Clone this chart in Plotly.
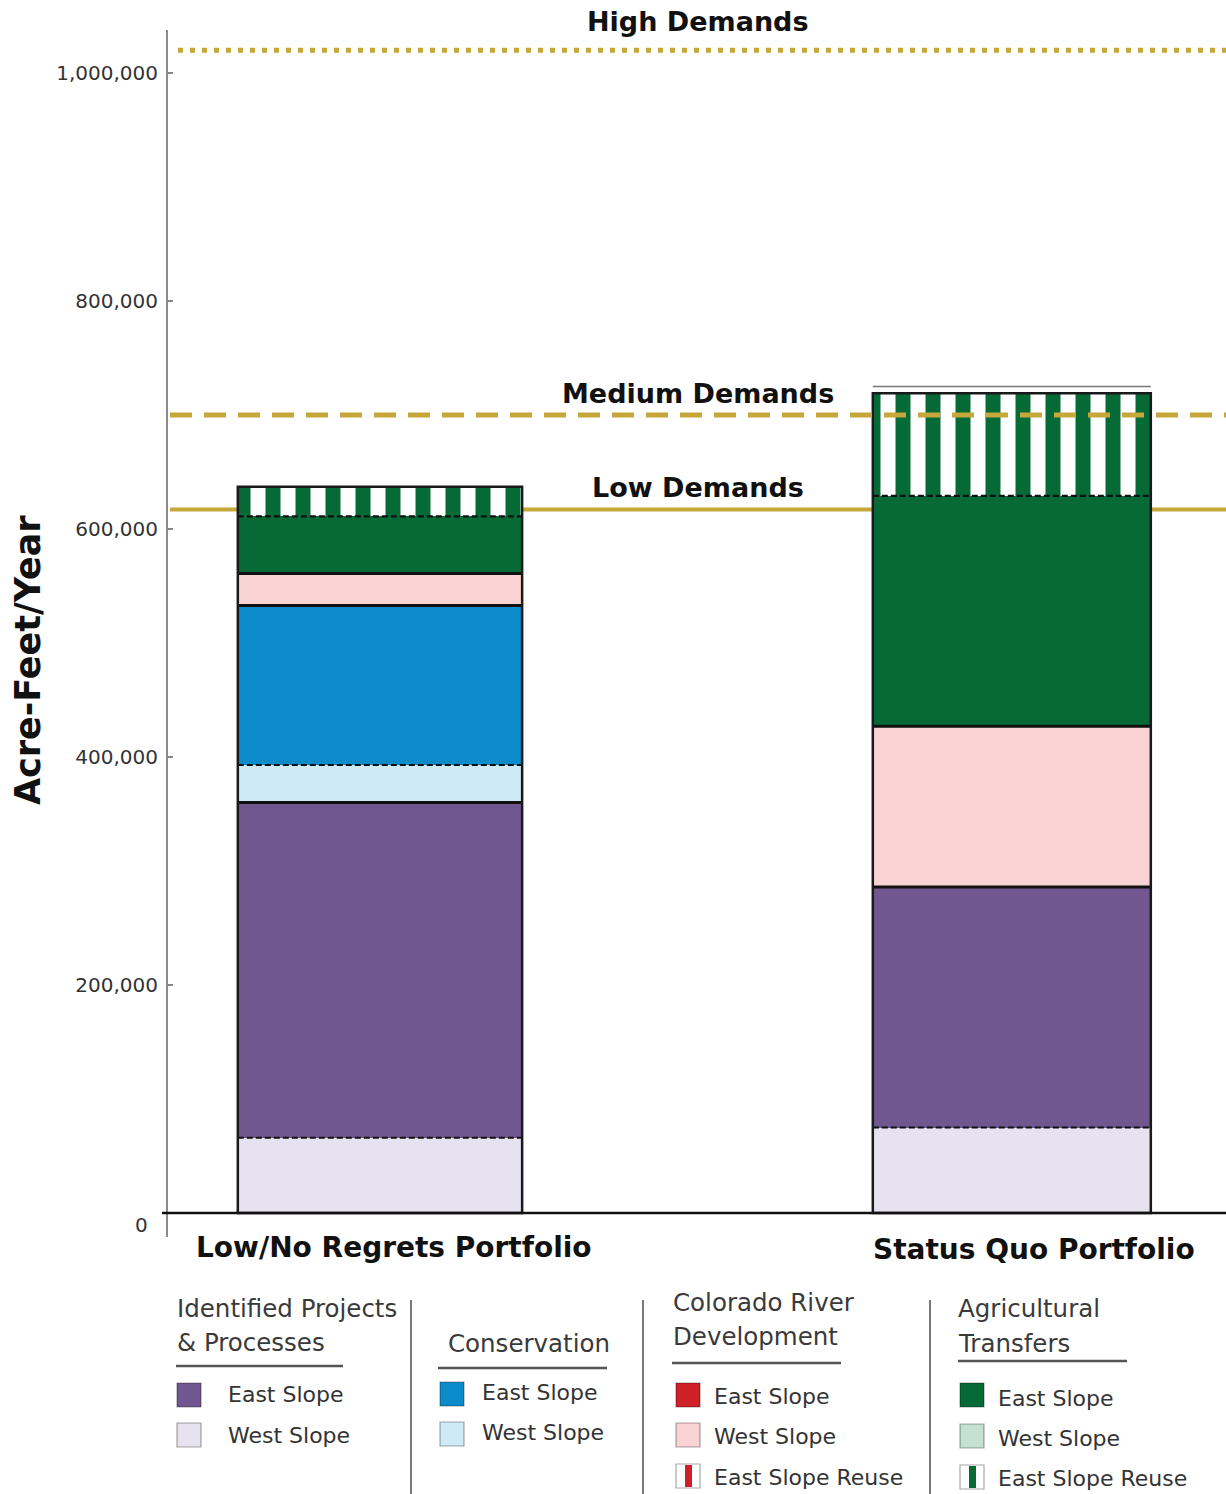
import plotly.graph_objects as go

# ---- data (acre-feet per year) ----
portfolios = ["Low/No Regrets Portfolio", "Status Quo Portfolio"]

ipp_west = [66000, 75000]        # Identified Projects & Processes, West Slope
ipp_east = [294000, 211000]      # Identified Projects & Processes, East Slope
cons_west = [33000, 0]           # Conservation, West Slope
cons_east = [140000, 0]          # Conservation, East Slope
crd_west = [28000, 141000]       # Colorado River Development, West Slope
ag_east = [50000, 202000]        # Agricultural Transfers, East Slope
ag_reuse = [26000, 90000]        # Agricultural Transfers, East Slope Reuse
crd_reuse = [0, 6000]            # Colorado River Development, East Slope Reuse

demand_names = ["High Demands", "Medium Demands", "Low Demands"]
demand_levels = [1020000, 700000, 617000]

y_ticks = [200000, 400000, 600000, 800000, 1000000]
y_tick_text = ["200,000", "400,000", "600,000", "800,000", "1,000,000"]

# ---- colours ----
PURPLE = "#70578f"
LAVENDER = "#e7e2ef"
BLUE = "#0b8bc9"
LIGHT_BLUE = "#cfeaf7"
RED = "#cf2027"
PINK = "#f9d3d4"
GREEN = "#066a37"
LIGHT_GREEN = "#c4e2cf"
GOLD = "#c6a83a"

FONT = "DejaVu Sans"

# figure geometry
W, H = 1226, 1494
ML, MR, MT, MB = 168, 0, 30, 257
Y0, Y1 = -21053, 1037719
X0, X1 = -0.3355, 1.339
bar_x = [0, 1]
bar_w = [0.45, 0.44]


def px_x(p):
    return (p - ML) / (W - ML - MR)


def px_y(p):
    return (H - MB - p) / (H - MT - MB)


# stacked segments: (values, fill, group, pattern)
segments = [
    (ipp_west, LAVENDER, "ipp", None),
    (ipp_east, PURPLE, "ipp", None),
    (cons_west, LIGHT_BLUE, "cons", None),
    (cons_east, BLUE, "cons", None),
    (crd_west, PINK, "crd", None),
    (ag_east, GREEN, "ag", None),
    (ag_reuse, "white", "ag", GREEN),
]

fig = go.Figure()
for vals, col, grp, pat in segments:
    marker = dict(color=col, line=dict(width=0))
    if pat:
        marker["pattern"] = dict(shape="|", fgcolor=pat, bgcolor="white",
                                 fgopacity=1, size=30, solidity=0.5)
    fig.add_trace(go.Bar(x=bar_x, y=vals, width=bar_w, marker=marker,
                         showlegend=False, hoverinfo="skip"))
# thin reuse sliver on top
fig.add_trace(go.Bar(x=bar_x, y=crd_reuse, width=bar_w,
                     marker=dict(color="white", line=dict(width=0)),
                     showlegend=False, hoverinfo="skip"))

shapes = []
annotations = []

# segment boundaries and bar outlines
for i, xc in enumerate(bar_x):
    x_l, x_r = xc - bar_w[i] / 2, xc + bar_w[i] / 2
    cum = 0
    prev_grp = None
    nonzero = [(v[i], g) for v, c, g, p in segments if v[i] > 0]
    for k, (v, g) in enumerate(nonzero):
        if k > 0:
            dashed = (g == prev_grp)
            shapes.append(dict(type="line", xref="x", yref="y", x0=x_l, x1=x_r,
                               y0=cum, y1=cum, layer="above",
                               line=dict(color="#111", width=2.2 if dashed else 3,
                                         dash="6px,3px" if dashed else "solid")))
        cum += v
        prev_grp = g
    shapes.append(dict(type="rect", xref="x", yref="y", x0=x_l, x1=x_r,
                       y0=0, y1=cum, layer="above",
                       line=dict(color="#1a1a1a", width=2.5)))
    if crd_reuse[i] > 0:
        top = cum + crd_reuse[i]
        shapes.append(dict(type="line", xref="x", yref="y", x0=x_l, x1=x_r,
                           y0=top, y1=top, layer="above",
                           line=dict(color="#777", width=1.5)))

# demand lines
demand_styles = [
    dict(dash="5px,7px", width=5, start=178, layer="above", shift=29),
    dict(dash="22px,12px", width=5, start=170, layer="above", shift=22),
    dict(dash="solid", width=4, start=170, layer="below", shift=22),
]
for name, lvl, st in zip(demand_names, demand_levels, demand_styles):
    shapes.append(dict(type="line", xref="paper", yref="y",
                       x0=px_x(st["start"]), x1=1, y0=lvl, y1=lvl,
                       layer=st["layer"],
                       line=dict(color=GOLD, width=st["width"], dash=st["dash"])))
    annotations.append(dict(text="<b>%s</b>" % name, xref="paper", yref="y",
                            x=px_x(698), y=lvl, yshift=st["shift"], showarrow=False,
                            xanchor="center", yanchor="middle",
                            font=dict(family=FONT, size=27, color="#111")))

# baseline
shapes.append(dict(type="line", xref="paper", yref="y", x0=px_x(162), x1=1,
                   y0=0, y1=0, layer="above", line=dict(color="#111", width=2.5)))

# zero label
annotations.append(dict(text="0", xref="paper", yref="y", x=px_x(150), y=0,
                        yshift=-12, xanchor="right", yanchor="middle", showarrow=False,
                        font=dict(family=FONT, size=20, color="#333")))

# axis title
annotations.append(dict(text="<b>Acre-Feet/Year</b>", xref="paper", yref="paper",
                        x=px_x(28), y=px_y(660), textangle=-90, showarrow=False,
                        xanchor="center", yanchor="middle",
                        font=dict(family=FONT, size=35, color="#111")))

# portfolio labels
label_pos = [(394, 1247), (1034, 1249)]
for name, (lx, ly) in zip(portfolios, label_pos):
    annotations.append(dict(text="<b>%s</b>" % name, xref="paper", yref="paper",
                            x=px_x(lx), y=px_y(ly), showarrow=False,
                            xanchor="center", yanchor="middle",
                            font=dict(family=FONT, size=28, color="#111")))

# ---- custom legend ----
legend_groups = [
    dict(title=["Identified Projects", "& Processes"], title_x=177, title_y=[1308, 1342],
         rule=(176, 343, 1366), sw_x=177, tx=228,
         items=[("East Slope", PURPLE, None, 1383, 1395),
                ("West Slope", LAVENDER, None, 1423, 1435)]),
    dict(title=["Conservation"], title_x=448, title_y=[1343],
         rule=(438, 607, 1368), sw_x=440, tx=482,
         items=[("East Slope", BLUE, None, 1382, 1392),
                ("West Slope", LIGHT_BLUE, None, 1422, 1432)]),
    dict(title=["Colorado River", "Development"], title_x=673, title_y=[1302, 1337],
         rule=(672, 841, 1363), sw_x=676, tx=714,
         items=[("East Slope", RED, None, 1383, 1396),
                ("West Slope", PINK, None, 1423, 1436),
                ("East Slope Reuse", "white", RED, 1464, 1477)]),
    dict(title=["Agricultural", "Transfers"], title_x=958, title_y=[1308, 1343],
         rule=(958, 1127, 1361), sw_x=960, tx=998,
         items=[("East Slope", GREEN, None, 1383, 1398),
                ("West Slope", LIGHT_GREEN, None, 1424, 1438),
                ("East Slope Reuse", "white", GREEN, 1465, 1478)]),
]
SW = 24
for g in legend_groups:
    for line, ty in zip(g["title"], g["title_y"]):
        annotations.append(dict(text=line, xref="paper", yref="paper",
                                x=px_x(g["title_x"] - 2), y=px_y(ty), showarrow=False,
                                xanchor="left", yanchor="middle",
                                font=dict(family=FONT, size=24.5, color="#3a3a3a")))
    rx0, rx1, ry = g["rule"]
    shapes.append(dict(type="line", xref="paper", yref="paper",
                       x0=px_x(rx0), x1=px_x(rx1), y0=px_y(ry), y1=px_y(ry),
                       line=dict(color="#555", width=2.5)))
    for label, fill, stripe, sy, ty in g["items"]:
        sx = g["sw_x"]
        shapes.append(dict(type="rect", xref="paper", yref="paper",
                           x0=px_x(sx), x1=px_x(sx + SW), y0=px_y(sy), y1=px_y(sy + SW),
                           fillcolor=fill, line=dict(color="rgba(0,0,0,0.35)", width=1.2)))
        if stripe:
            shapes.append(dict(type="rect", xref="paper", yref="paper",
                               x0=px_x(sx + 9), x1=px_x(sx + 16),
                               y0=px_y(sy + 1), y1=px_y(sy + SW - 1),
                               fillcolor=stripe, line=dict(width=0)))
        annotations.append(dict(text=label, xref="paper", yref="paper",
                                x=px_x(g["tx"] - 2), y=px_y(ty), showarrow=False,
                                xanchor="left", yanchor="middle",
                                font=dict(family=FONT, size=22, color="#333")))

for sx in [411, 643, 930]:
    shapes.append(dict(type="line", xref="paper", yref="paper",
                       x0=px_x(sx), x1=px_x(sx), y0=px_y(1300), y1=px_y(1494),
                       line=dict(color="#777", width=2)))

fig.update_layout(
    width=W, height=H,
    margin=dict(l=ML, r=MR, t=MT, b=MB),
    barmode="stack",
    paper_bgcolor="white", plot_bgcolor="white",
    shapes=shapes, annotations=annotations,
    showlegend=False,
    xaxis=dict(range=[X0, X1], visible=False, showgrid=False, zeroline=False),
    yaxis=dict(range=[Y0, Y1], showgrid=False, zeroline=False,
               showline=True, linecolor="#8a8a8a", linewidth=2,
               tickvals=y_ticks, ticktext=y_tick_text,
               ticks="inside", ticklen=5, tickcolor="#888", tickwidth=1.5,
               ticklabelstandoff=4,
               tickfont=dict(family=FONT, size=20, color="#333")),
)

fig.write_html("out.html")
